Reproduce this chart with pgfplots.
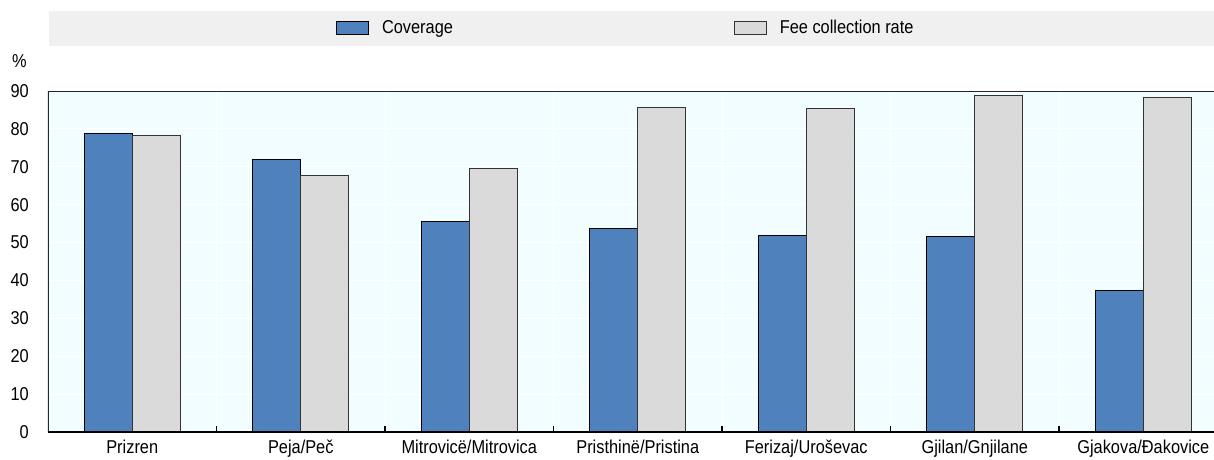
\documentclass[border=0pt]{standalone}
\usepackage{fontspec}
\setmainfont{Liberation Sans}[FakeStretch=0.88]
\usepackage{pgfplots}
\pgfplotsset{compat=1.18}

\definecolor{covblue}{RGB}{79,129,189}
\definecolor{feegray}{RGB}{218,218,218}
\definecolor{plotbg}{RGB}{241,253,255}
\definecolor{bandgray}{RGB}{240,240,240}
\newcommand\chartfont{\fontsize{18.6}{21}\selectfont}

\begin{document}
\begin{tikzpicture}[font=\chartfont]
\useasboundingbox (0pt,0pt) rectangle (1214pt,459pt);
% legend band and unit label
\fill[bandgray] (49pt,413.3pt) rectangle (1214pt,448pt);
\node[anchor=west, inner sep=0pt] at (12pt,397.5pt) {\%};

\begin{axis}[
    at={(48pt,27pt)}, anchor=south west,
    scale only axis, width=1166pt, height=341pt,
    xmin=-0.5, xmax=6.42,
    ymin=0, ymax=90,
    ytick={0,10,...,90},
    xtick={0,1,...,6},
    xticklabels={Prizren, Peja/Peč, Mitrovicë/Mitrovica, Pristhinë/Pristina,
                 Ferizaj/Uroševac, Gjilan/Gnjilane, Gjakova/Đakovice},
    extra x ticks={0.5,1.5,...,5.5},
    extra x tick labels={},
    extra x tick style={
        xmajorgrids,
        major grid style={white, line width=1pt},
        major tick length=6pt,
        tick align=inside,
        tick style={black, line width=1.6pt}},
    xtick pos=bottom,
    major tick length=0pt,
    ymajorgrids,
    major grid style={white, line width=0.9pt},
    axis background/.style={fill=plotbg},
    axis line style={draw=none},
    /pgf/number format/assume math mode=true,
    tick label style={font=\chartfont},
    yticklabel style={inner xsep=0pt, xshift=-19pt},
    xticklabel style={inner ysep=0pt, yshift=-8pt},
    ybar, bar width=0.285,
    legend image code/.code={\draw[#1] (0pt,-6.3pt) rectangle (32pt,6.3pt);},
    legend style={at={(0.247,1.1848)}, anchor=west, draw=none, fill=none,
        font=\chartfont, inner sep=0pt, legend columns=2,
        nodes={inner xsep=13pt},
        /tikz/every even column/.append style={column sep=268pt}},
]

\addplot[fill=covblue, draw=black, line width=0.8pt, bar shift=-0.1425]
    coordinates {(0,78.7) (1,72.0) (2,55.6) (3,53.7) (4,51.9) (5,51.5) (6,37.3)};
\addplot[fill=feegray, draw=black!80, line width=0.8pt, bar shift=0.1425]
    coordinates {(0,78.3) (1,67.6) (2,69.6) (3,85.6) (4,85.5) (5,88.8) (6,88.2)};
\legend{Coverage, Fee collection rate}

\draw[black!85, line width=1.4pt] (rel axis cs:0,1) -- (rel axis cs:1,1);
\draw[black!85, line width=1.2pt] (rel axis cs:0,0) -- (rel axis cs:0,1);
\draw[black, line width=2.6pt] (rel axis cs:0,0) -- (rel axis cs:1,0);
\end{axis}
\end{tikzpicture}
\end{document}
